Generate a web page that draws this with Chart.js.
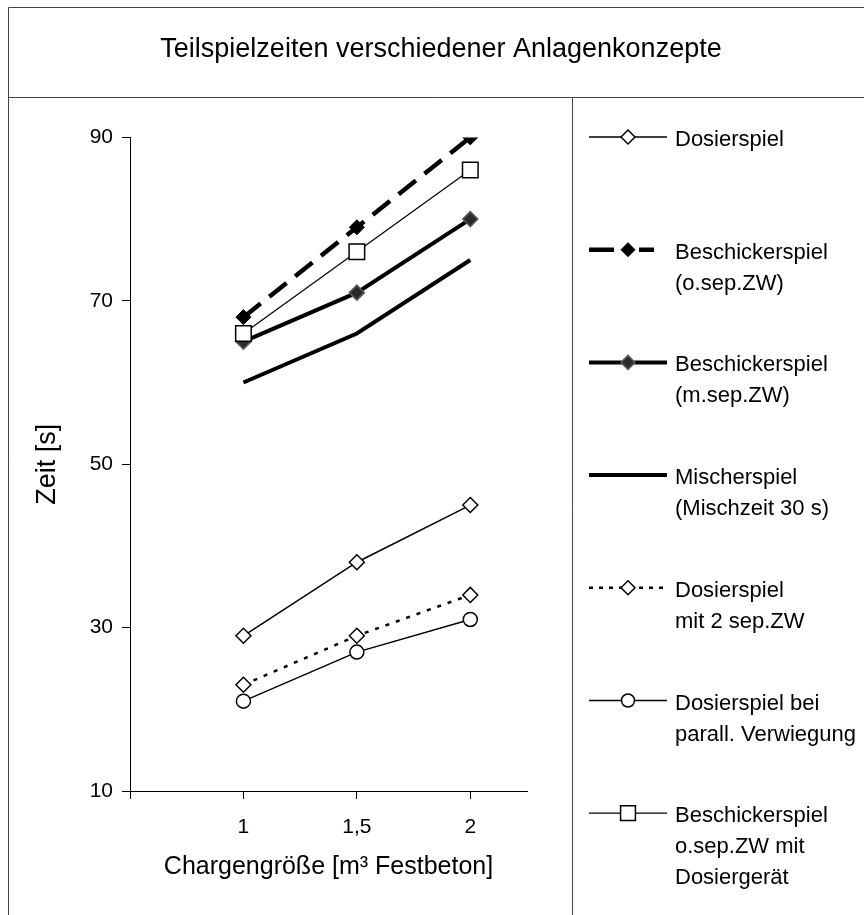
<!DOCTYPE html>
<html>
<head>
<meta charset="utf-8">
<script src="https://cdn.jsdelivr.net/npm/chart.js@4.4.1/dist/chart.umd.min.js"></script>
<style>
html,body{margin:0;padding:0;background:#fff;overflow:hidden;}
#wrap{position:relative;width:864px;height:915px;}
canvas{display:block;}
</style>
</head>
<body>
<div id="wrap"><canvas id="c" width="864" height="915"></canvas></div>
<script>
// ---- data ----
const xValues = [1, 1.5, 2];
const xTickLabels = ['1', '1,5', '2'];
const yTicks = [10, 30, 50, 70, 90];
const dosierspiel = [29, 38, 45];
const beschickerOhneZW = [68, 79, 90];
const beschickerMitZW = [65, 71, 80];
const mischerspiel = [60, 66, 75];
const dosierMit2ZW = [23, 29, 34];
const dosierParallel = [21, 27, 31];
const beschickerDosiergeraet = [66, 76, 86];
const seriesLabels = [
  ['Dosierspiel'],
  ['Beschickerspiel', '(o.sep.ZW)'],
  ['Beschickerspiel', '(m.sep.ZW)'],
  ['Mischerspiel', '(Mischzeit 30 s)'],
  ['Dosierspiel', 'mit 2 sep.ZW'],
  ['Dosierspiel bei', 'parall. Verwiegung'],
  ['Beschickerspiel', 'o.sep.ZW mit', 'Dosiergerät']
];
const chartTitle = 'Teilspielzeiten verschiedener Anlagenkonzepte';
const xTitle = 'Chargengröße [m³ Festbeton]';
const yTitle = 'Zeit [s]';

// ---- styles ----
const FONT = "'Liberation Sans', Arial, sans-serif";
const seriesValues = [dosierspiel, beschickerOhneZW, beschickerMitZW, mischerspiel, dosierMit2ZW, dosierParallel, beschickerDosiergeraet];
const styles = [
  {bw: 1.5, dash: [], ps: 'rectRot', r: 7.5, bg: '#fff', bc: '#000', pbw: 1.5},
  {bw: 4.5, dash: [22, 11], ps: 'rectRot', r: 7.5, bg: '#000', bc: '#000', pbw: 1, legDash: [25, 25, 15, 100]},
  {bw: 4, dash: [], ps: 'rectRot', r: 7.5, bg: '#2a2a2a', bc: '#5a5a5a', pbw: 1.5},
  {bw: 4, dash: [], ps: false, r: 0, bg: '#000', bc: '#000', pbw: 0},
  {bw: 2.5, dash: [4, 7], ps: 'rectRot', r: 7.5, bg: '#fff', bc: '#000', pbw: 1.5, legDash: [4, 6]},
  {bw: 1.5, dash: [], ps: 'circle', r: 7, bg: '#fff', bc: '#000', pbw: 1.5},
  {bw: 1.2, dash: [], ps: 'rect', r: 11, bg: '#fff', bc: '#000', pbw: 1.5}
];

const datasets = seriesValues.map((vals, i) => {
  const s = styles[i];
  return {
    label: seriesLabels[i].join(' '),
    data: xValues.map((x, j) => ({x: x, y: vals[j]})),
    borderColor: '#000',
    borderWidth: s.bw,
    borderDash: s.dash,
    borderCapStyle: 'butt',
    fill: false,
    tension: 0,
    pointStyle: s.ps || 'circle',
    pointRadius: s.r,
    pointHoverRadius: s.r,
    pointBackgroundColor: s.bg,
    pointBorderColor: s.bc,
    pointBorderWidth: s.pbw,
    order: seriesValues.length - i
  };
});

function markerPath(ctx, style, x, y, r) {
  ctx.beginPath();
  if (style === 'rectRot') {
    ctx.moveTo(x - r, y); ctx.lineTo(x, y - r); ctx.lineTo(x + r, y); ctx.lineTo(x, y + r); ctx.closePath();
  } else if (style === 'circle') {
    ctx.arc(x, y, r, 0, Math.PI * 2);
  } else if (style === 'rect') {
    const h = r * Math.SQRT1_2;
    ctx.rect(x - h, y - h, 2 * h, 2 * h);
  }
}

const framePlugin = {
  id: 'frame',
  beforeDraw(chart) {
    const ctx = chart.ctx;
    ctx.save();
    ctx.strokeStyle = '#444';
    ctx.lineWidth = 1;
    ctx.beginPath();
    ctx.moveTo(8.5, 915); ctx.lineTo(8.5, 7.5); ctx.lineTo(864, 7.5);
    ctx.moveTo(8.5, 97.5); ctx.lineTo(864, 97.5);
    ctx.moveTo(572.5, 97.5); ctx.lineTo(572.5, 915);
    ctx.stroke();
    ctx.restore();
  },
  afterDraw(chart) {
    const ctx = chart.ctx;
    ctx.save();
    const x0 = 589, x1 = 667, xm = 628, xt = 675;
    seriesLabels.forEach((lines, i) => {
      const s = styles[i];
      const y = 137 + i * 112.7;
      ctx.strokeStyle = '#000';
      ctx.lineWidth = s.bw;
      ctx.setLineDash(s.legDash || s.dash);
      ctx.lineCap = 'butt';
      ctx.beginPath();
      ctx.moveTo(x0, y); ctx.lineTo(x1, y);
      ctx.stroke();
      ctx.setLineDash([]);
      if (s.ps) {
        const r = s.ps === 'rect' ? 10.5 : (s.ps === 'circle' ? 6.5 : 7);
        markerPath(ctx, s.ps, xm, y, r);
        ctx.fillStyle = s.bg;
        ctx.fill();
        ctx.lineWidth = s.pbw;
        ctx.strokeStyle = s.bc;
        ctx.stroke();
      }
      ctx.fillStyle = '#000';
      ctx.font = '22px ' + FONT;
      ctx.textAlign = 'left';
      ctx.textBaseline = 'alphabetic';
      lines.forEach((t, k) => ctx.fillText(t, xt, y + 9 + k * 31));
    });
    ctx.restore();
  }
};

Chart.defaults.font.family = FONT;
Chart.defaults.color = '#000';

new Chart(document.getElementById('c'), {
  type: 'line',
  data: {datasets: datasets},
  options: {
    responsive: false,
    devicePixelRatio: 1,
    animation: false,
    events: [],
    layout: {padding: {left: 18, right: 0, top: 0, bottom: 0}},
    plugins: {
      legend: {display: false},
      tooltip: {enabled: false},
      title: {
        display: true,
        text: chartTitle,
        color: '#000',
        font: {size: 27, weight: 'normal', family: FONT},
        padding: {top: 33, bottom: 72}
      }
    },
    scales: {
      x: {
        type: 'linear',
        position: 'bottom',
        min: 0.5,
        max: 2.25,
        afterBuildTicks: (s) => { s.ticks = [0.5].concat(xValues).map(v => ({value: v})); },
        afterFit: (s) => { s.height = 124; },
        ticks: {
          autoSkip: false,
          maxRotation: 0,
          padding: 16,
          color: '#000',
          font: {size: 21, family: FONT},
          callback: (v) => { const i = xValues.indexOf(v); return i < 0 ? '' : xTickLabels[i]; }
        },
        grid: {display: true, drawOnChartArea: false, drawTicks: true, tickLength: 8, color: '#000', lineWidth: 1},
        border: {display: true, color: '#000', width: 1},
        title: {display: true, text: xTitle, color: '#000', font: {size: 25, family: FONT}, padding: {top: 0, bottom: 33}}
      },
      y: {
        type: 'linear',
        position: 'left',
        min: 10,
        max: 90,
        afterBuildTicks: (s) => { s.ticks = yTicks.map(v => ({value: v})); },
        afterFit: (s) => { s.width = 112; },
        ticks: {padding: 9, color: '#000', font: {size: 21, family: FONT}},
        grid: {display: true, drawOnChartArea: false, drawTicks: true, tickLength: 8, color: '#000', lineWidth: 1},
        border: {display: true, color: '#000', width: 1},
        title: {display: true, text: yTitle, color: '#000', font: {size: 27, family: FONT}, padding: {top: 13, bottom: 0}}
      },
      yRight: {
        type: 'linear',
        position: 'right',
        display: true,
        grid: {display: false},
        border: {display: false},
        ticks: {display: false},
        afterFit: (s) => { s.width = 864 - 527; }
      }
    }
  },
  plugins: [framePlugin]
});
</script>
</body>
</html>
